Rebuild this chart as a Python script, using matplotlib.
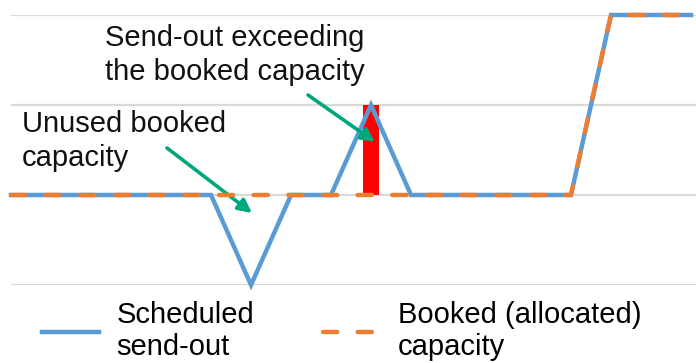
import matplotlib
matplotlib.use("Agg")
import matplotlib.pyplot as plt
from matplotlib.lines import Line2D

plt.rcParams["font.family"] = ["Liberation Sans", "DejaVu Sans"]

# Hourly profile: scheduled send-out vs booked capacity
periods = list(range(18))
scheduled = [1, 1, 1, 1, 1, 1, 0, 1, 1, 2, 1, 1, 1, 1, 1, 3, 3, 3]
booked = [1, 1, 1, 1, 1, 1, 1, 1, 1, 1, 1, 1, 1, 1, 1, 3, 3, 3]
excess_period = 9

blue = "#5B9BD5"
orange = "#ED7D31"
green = "#00A67C"
W, H = 696, 363

fig = plt.figure(figsize=(W / 100, H / 100), dpi=100)
ax = fig.add_axes([11 / W, (H - 285) / H, (W - 11) / W, 270 / H])

ax.set_xlim(0, (W - 11) / 40)
ax.set_ylim(0, 3)
ax.set_yticks([0, 1, 2, 3])
ax.set_xticks([])
ax.tick_params(left=False, labelleft=False)
ax.grid(axis="y", color="#d9d9d9", lw=1.6)
ax.set_axisbelow(True)
for s in ax.spines.values():
    s.set_visible(False)

# exceedance bar between booked and scheduled
ax.bar(excess_period, scheduled[excess_period] - booked[excess_period],
       bottom=booked[excess_period], width=0.42, color="#FF0000", zorder=2)

ax.plot(periods, scheduled, color=blue, lw=3.2, zorder=3, clip_on=False,
        solid_joinstyle="miter")
ax.plot(periods, booked, color=orange, lw=3.2, zorder=4, clip_on=False,
        dashes=(3.2, 4.6), dash_capstyle="round")


def px(x, y):
    return ((x - 11) / 40, (285 - y) / 90)


arrow = dict(arrowstyle="-|>", color=green, lw=2.6, mutation_scale=20,
             shrinkA=0, shrinkB=0)
ax.annotate("", xy=px(375, 142), xytext=px(308, 95), arrowprops=arrow,
            annotation_clip=False)
ax.annotate("", xy=px(252, 213), xytext=px(167, 148), arrowprops=arrow,
            annotation_clip=False)

fig.text(105 / W, 1 - 24 / H, "Send-out exceeding\nthe booked capacity",
         fontsize=21, va="top", ha="left", linespacing=1.26, color="#111111")
fig.text(22 / W, 1 - 110 / H, "Unused booked\ncapacity",
         fontsize=21, va="top", ha="left", linespacing=1.26, color="#111111")

handles = [
    Line2D([], [], color=blue, lw=3.2),
    Line2D([], [], color=orange, lw=3.2, dashes=(3.2, 4.6), dash_capstyle="round"),
]
fig.legend(handles, ["Scheduled\nsend-out", "Booked (allocated)\ncapacity"],
           ncol=2, loc="center left", bbox_to_anchor=(30 / W, 1 - 331 / H),
           frameon=False, fontsize=21, handlelength=1.95, handletextpad=0.62,
           columnspacing=2.35, borderaxespad=0, labelspacing=0)

fig.savefig("out.png", dpi=100)
